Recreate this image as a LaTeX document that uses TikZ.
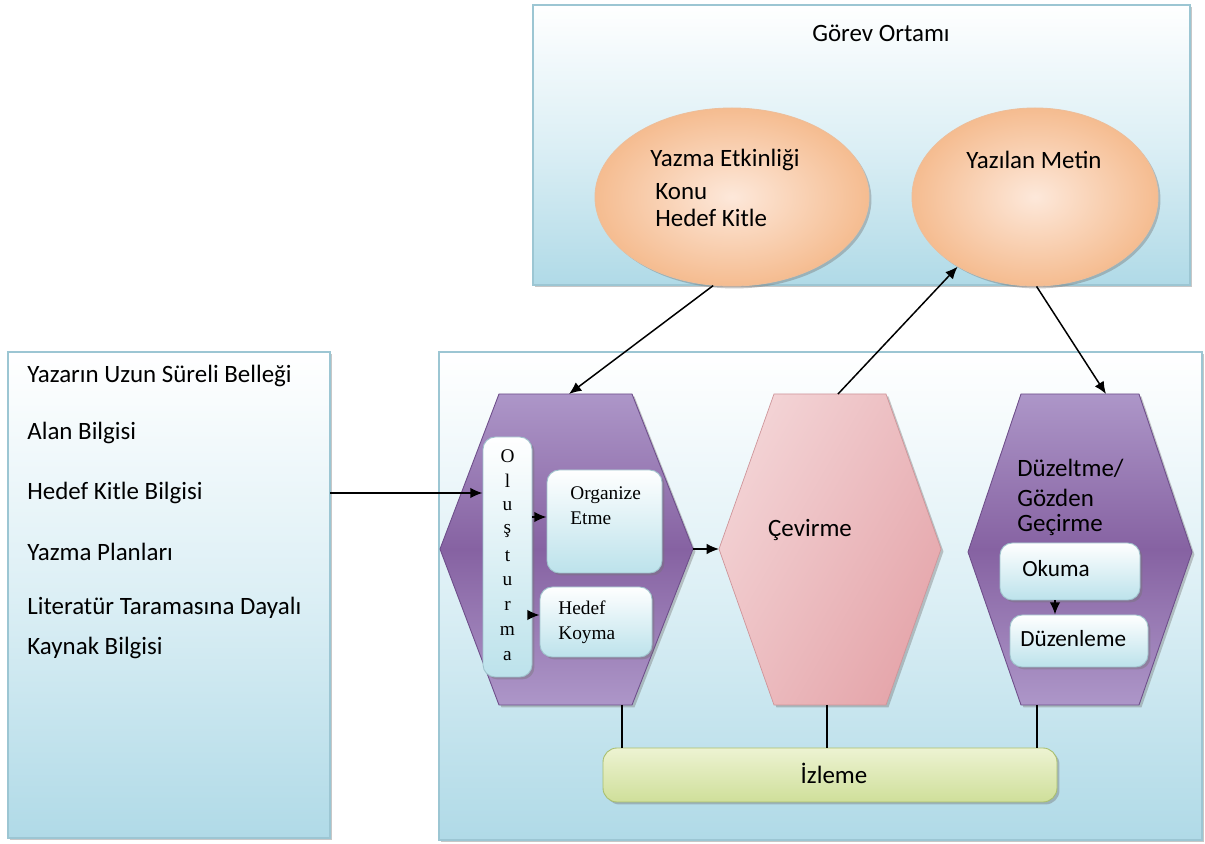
\documentclass[tikz,border=0pt]{standalone}
\usepackage{fontspec}
\setmainfont{Carlito}
\newfontfamily\tnr{Liberation Serif}
\usetikzlibrary{shapes.geometric,arrows.meta,shadows,calc}

\definecolor{panelline}{HTML}{9CC6D3}
\definecolor{panelblue}{HTML}{B0DAE7}
\definecolor{panelmid}{HTML}{DCEFF5}
\definecolor{hexpurple}{HTML}{8662A2}
\definecolor{hexlilac}{HTML}{AD96C8}
\definecolor{hexedge}{HTML}{6E4E8A}
\definecolor{pinkdark}{HTML}{E5A6AB}
\definecolor{pinklight}{HTML}{F3D3D5}
\definecolor{peachin}{HTML}{FDE8DA}
\definecolor{peachout}{HTML}{F5BC90}
\definecolor{peachedge}{HTML}{EDBE9A}
\definecolor{boxline}{HTML}{9FC3CC}
\definecolor{boxblue}{HTML}{BCE2EB}
\definecolor{greentop}{HTML}{EDF3D2}
\definecolor{greenbot}{HTML}{CFDF9A}
\definecolor{greenline}{HTML}{A9BF6E}

\newcommand\bodysize{\fontsize{14.2}{17}\selectfont}
\newcommand\smallsize{\fontsize{13.2}{16}\selectfont}
\newcommand\serifsize{\tnr\fontsize{11}{13}\selectfont}

\begin{document}
\begin{tikzpicture}[x=0.02cm, y=-0.02cm,
  font=\bodysize,
  softshadow/.style={drop shadow={shadow xshift=1.4pt, shadow yshift=-1.4pt, fill=black!55, opacity=0.4}},
  panel/.style={draw=panelline, line width=0.6pt, top color=white, bottom color=panelblue,
    middle color=panelmid, softshadow, inner sep=0pt},
  ovalbox/.style={ellipse, draw=peachedge, line width=0.5pt, inner color=peachin, outer color=peachout,
    softshadow, inner sep=0pt},
  purplehex/.style={draw=hexedge, line width=0.5pt, top color=hexlilac, bottom color=hexlilac,
    middle color=hexpurple, softshadow},
  pinkhex/.style={draw=pinkdark!90!black, line width=0.4pt, left color=pinklight, right color=pinkdark,
    shading angle=60, softshadow},
  subbox/.style={rounded corners=7pt, draw=boxline, line width=0.5pt, top color=white, bottom color=boxblue,
    softshadow, inner sep=0pt},
  greenbar/.style={rounded corners=8pt, draw=greenline, line width=0.5pt, top color=greentop,
    bottom color=greenbot, softshadow, inner sep=0pt},
  txt/.style={inner sep=0pt, anchor=west},
  arr/.style={-{Latex[length=7pt,width=6pt]}, line width=0.85pt},
  link/.style={line width=0.8pt}]

\useasboundingbox (0,0) rectangle (1205,844);

% ---- the three panels ----
\node (memory) [panel, minimum width=322*0.02cm, minimum height=486*0.02cm] at (169,595) {};
\node (task) [panel, minimum width=657*0.02cm, minimum height=280*0.02cm] at (861.5,145) {};
\node (proc) [panel, minimum width=763*0.02cm, minimum height=488*0.02cm] at (820.5,596) {};

% ---- long-term memory texts ----
\node (m1) [txt] at (27,376) {Yazarın Uzun Süreli Belleği};
\node (m2) [txt] at (27,433) {Alan Bilgisi};
\node (m3) [txt] at (27,493) {Hedef Kitle Bilgisi};
\node (m4) [txt] at (27,552) {Yazma Planları};
\node (m5) [txt] at (27,608) {Literatür Taramasına Dayalı};
\node (m6) [txt] at (27,648) {Kaynak Bilgisi};

% ---- task environment ----
\node (tasktitle) [inner sep=0pt] at (881,33) {Görev Ortamı};
\node (e1) [ovalbox, minimum width=274*0.02cm, minimum height=178*0.02cm] at (732,197) {};
\node (e2) [ovalbox, minimum width=246*0.02cm, minimum height=178*0.02cm] at (1035,197) {};
\node (e1a) [txt] at (650,160) {Yazma Etkinliği};
\node (e1b) [txt] at (655,192) {Konu};
\node (e1c) [txt] at (655,218) {Hedef Kitle};
\node (e2a) [inner sep=0pt] at (1034,160) {Yazılan Metin};

% ---- planning hexagon ----
\path[purplehex] (499,394) -- (632,394) -- (693,549) -- (632,705) -- (499,705) -- (440,549) -- cycle;
\coordinate (h1n) at (569,394);
\coordinate (h1e) at (693,549);
\coordinate (h1s) at (622,705);

\node (olus) [subbox, minimum width=49*0.02cm, minimum height=240*0.02cm] at (507.5,557) {};
\foreach \ch [count=\i from 0] in {O,l,u,ş,t,u,r,m,a}
  \node (ol\i) [inner sep=0pt, font=\serifsize] at (507.5,456+25*\i) {\ch};

\node (org) [subbox, minimum width=115*0.02cm, minimum height=103*0.02cm] at (604.5,521.5) {};
\node (orga) [txt, font=\serifsize] at (570,495) {Organize};
\node (orgb) [txt, font=\serifsize] at (570,518) {Etme};

\node (hk) [subbox, minimum width=112*0.02cm, minimum height=70*0.02cm] at (596,622) {};
\node (hka) [txt, font=\serifsize] at (558,608) {Hedef};
\node (hkb) [txt, font=\serifsize] at (558,635) {Koyma};

% ---- translating hexagon ----
\path[pinkhex] (774,394) -- (886,394) -- (941,549) -- (886,705) -- (774,705) -- (719,549) -- cycle;
\coordinate (h2n) at (838,394);
\coordinate (h2w) at (719,549);
\coordinate (h2s) at (827,705);
\node (cev) [inner sep=0pt] at (810,530) {Çevirme};

% ---- reviewing hexagon ----
\path[purplehex] (1021,394) -- (1139,394) -- (1192,552) -- (1139,705) -- (1021,705) -- (968,552) -- cycle;
\coordinate (h3n) at (1106,394);
\coordinate (h3s) at (1037,705);
\node (dz1) [txt] at (1017,468) {Düzeltme/};
\node (dz2) [txt] at (1017,498) {Gözden};
\node (dz3) [txt] at (1017,525) {Geçirme};

\node (oku) [subbox, minimum width=140*0.02cm, minimum height=57*0.02cm] at (1070,571.5) {};
\node (okut) [txt, font=\smallsize] at (1022,569) {Okuma};
\node (duz) [subbox, minimum width=138*0.02cm, minimum height=52*0.02cm] at (1079,641) {};
\node (duzt) [txt, font=\smallsize] at (1020,639) {Düzenleme};

% ---- monitoring bar ----
\node (izl) [greenbar, minimum width=454*0.02cm, minimum height=54*0.02cm] at (830,775) {};
\node (izlt) [inner sep=0pt] at (834,773) {İzleme};

% ---- connectors ----
\coordinate (memout) at (330,493);
\draw[arr] (memout) -- (olus.west |- memout);
\draw[arr] (olus.east |- 0,517) -- (org.west |- 0,517);
\draw[arr] (olus.east |- 0,615) -- (hk.west |- 0,615);
\draw[arr] (h1e) -- (h2w);
\draw[arr] (oku.south -| 1055,0) -- (duz.north -| 1055,0);

\draw[arr] (e1.258) -- (h1n);
\draw[arr] (h2n) -- (e2.222);
\draw[arr] (e2.271) -- (h3n);

\draw[link] (h1s) -- (h1s |- izl.north);
\draw[link] (h2s) -- (h2s |- izl.north);
\draw[link] (h3s) -- (h3s |- izl.north);

\end{tikzpicture}
\end{document}
